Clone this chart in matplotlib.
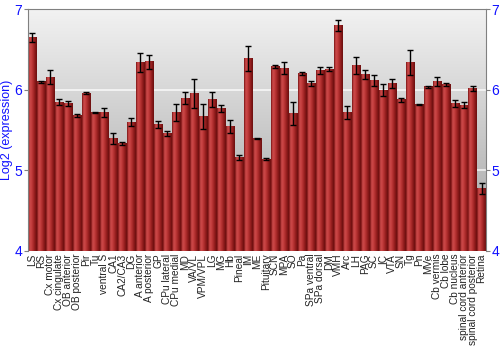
import numpy as np
import matplotlib
matplotlib.use('Agg')
import matplotlib.pyplot as plt
from matplotlib.colors import LinearSegmentedColormap

plt.rcParams['font.family'] = ['Liberation Sans', 'DejaVu Sans']

regions = ['LS', 'RS', 'Cx motor', 'Cx cingulate', 'OB anterior', 'OB posterior',
           'Pir', 'Tu', 'ventral S', 'CA1', 'CA2/CA3', 'DG', 'A anterior',
           'A posterior', 'GP', 'CPu lateral', 'CPu medial', 'MD', 'VA/VL',
           'VPM/VPL', 'LG', 'MG', 'Hb', 'Pineal', 'IM', 'ME', 'Pituitary', 'SCN',
           'MPA', 'SO', 'Pa', 'SPa ventral', 'SPa dorsal', 'DM', 'VMH', 'Arc',
           'LH', 'PAG', 'SC', 'IC', 'VTA', 'SN', 'Tg', 'Pn', 'MVe', 'Cb vermis',
           'Cb lobe', 'Cb nucleus', 'spinal cord anterior',
           'spinal cord posterior', 'Retina']
expr = [6.65, 6.10, 6.16, 5.85, 5.83, 5.68, 5.96, 5.72, 5.72, 5.40, 5.33,
        5.60, 6.34, 6.35, 5.57, 5.46, 5.72, 5.90, 5.96, 5.67, 5.88, 5.77,
        5.55, 5.16, 6.39, 5.40, 5.14, 6.29, 6.27, 5.71, 6.20, 6.08, 6.24,
        6.26, 6.80, 5.72, 6.30, 6.19, 6.12, 6.00, 6.08, 5.88, 6.34, 5.82,
        6.04, 6.11, 6.07, 5.83, 5.81, 6.02, 4.78]
err = [0.06, 0.01, 0.09, 0.035, 0.03, 0.02, 0.01, 0.01, 0.06, 0.07, 0.02,
       0.05, 0.12, 0.09, 0.045, 0.03, 0.10, 0.08, 0.18, 0.16, 0.09, 0.04,
       0.08, 0.035, 0.16, 0.005, 0.01, 0.015, 0.075, 0.14, 0.02, 0.035, 0.04,
       0.02, 0.065, 0.08, 0.105, 0.06, 0.07, 0.08, 0.06, 0.025, 0.16, 0.005,
       0.01, 0.055, 0.02, 0.045, 0.04, 0.027, 0.07]

blue = '#1010ff'
fig = plt.figure(figsize=(5, 3.5), dpi=100)
ax = fig.add_axes([0.056, 0.283, 0.916, 0.690])
ymin, ymax = 4, 7
x = np.arange(len(regions))
ax.set_xlim(-0.5, len(regions) - 0.5)
ax.set_ylim(ymin, ymax)

# background gradient
bg = np.linspace(0, 1, 256).reshape(-1, 1)
bg_cmap = LinearSegmentedColormap.from_list('bg', ['#a2a2a2', '#f2f2f2'])
ax.imshow(bg, extent=[-0.5, len(regions) - 0.5, ymin, ymax], origin='lower',
          aspect='auto', cmap=bg_cmap, zorder=0)
for g in [5, 6]:
    ax.axhline(g, color='white', lw=1.2, alpha=0.8, zorder=1)

bars = ax.bar(x, np.array(expr) - ymin, bottom=ymin, width=0.9,
              facecolor='none', edgecolor='none', zorder=2)
bar_cmap = LinearSegmentedColormap.from_list(
    'bar', ['#7a1414', '#cc4a4a', '#c43e3e', '#aa2a2a', '#8a1a1a', '#6a0e0e'])
grad = np.linspace(0, 1, 64).reshape(1, -1)
for b in bars:
    x0 = b.get_x()
    ax.imshow(grad, extent=[x0, x0 + b.get_width(), ymin, ymin + b.get_height()],
              aspect='auto', cmap=bar_cmap, zorder=2)
ax.errorbar(x, expr, yerr=err, fmt='none', ecolor='black', elinewidth=1,
            capsize=2, capthick=1, zorder=3)

ax.set_xticks(x)
ax.set_xticklabels(regions, rotation=90, fontsize=7.3, color='#222222')
ax.tick_params(axis='x', length=0, pad=2)
ax.set_yticks([4, 5, 6, 7])
ax.tick_params(axis='y', colors='#808080', labelcolor=blue, labelsize=10,
               length=3, right=True, labelright=True, pad=1)
ax.set_ylabel('Log2 (expression)', color=blue, fontsize=9)
ax.yaxis.set_label_coords(-0.032, 0.5)
for s in ax.spines.values():
    s.set_color('#808080')
ax.spines['bottom'].set_visible(False)

fig.savefig('out.png', dpi=100)
